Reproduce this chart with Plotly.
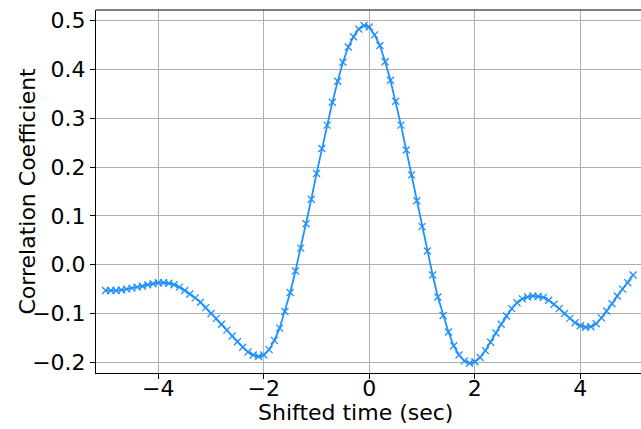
import plotly.graph_objects as go

shift_time = [round(-5 + 0.1 * i, 1) for i in range(101)]

correlation = [
    -0.053, -0.053, -0.053, -0.052, -0.050, -0.048, -0.046, -0.044, -0.041, -0.039,  # -5.0 .. -4.1
    -0.037, -0.037, -0.038, -0.041, -0.046, -0.053, -0.060, -0.068, -0.077, -0.088,  # -4.0 .. -3.1
    -0.100, -0.110, -0.122, -0.134, -0.146, -0.158, -0.169, -0.179, -0.185, -0.188,  # -3.0 .. -2.1
    -0.185, -0.174, -0.155, -0.130, -0.096, -0.057, -0.013, 0.034, 0.084, 0.134,     # -2.0 .. -1.1
    0.187, 0.238, 0.286, 0.333, 0.376, 0.415, 0.446, 0.467, 0.483, 0.490,            # -1.0 .. -0.1
    0.487, 0.471, 0.449, 0.416, 0.378, 0.335, 0.286, 0.235, 0.184, 0.131,            # 0.0 .. 0.9
    0.078, 0.028, -0.021, -0.066, -0.104, -0.138, -0.166, -0.185, -0.197, -0.202,    # 1.0 .. 1.9
    -0.199, -0.190, -0.176, -0.159, -0.140, -0.122, -0.105, -0.090, -0.078, -0.070,  # 2.0 .. 2.9
    -0.066, -0.064, -0.065, -0.067, -0.073, -0.081, -0.090, -0.100, -0.110, -0.119,  # 3.0 .. 3.9
    -0.125, -0.128, -0.127, -0.121, -0.109, -0.095, -0.080, -0.064, -0.050, -0.037,  # 4.0 .. 4.9
    -0.021,                                                                          # 5.0
]

x_ticks = [-4, -2, 0, 2, 4]
x_tick_labels = ["−4", "−2", "0", "2", "4"]
y_ticks = [-0.2, -0.1, 0.0, 0.1, 0.2, 0.3, 0.4, 0.5]

x_title = "Shifted time (sec)"
y_title = "Correlation Coefficient"

fig = go.Figure()
fig.add_trace(go.Scatter(
    x=shift_time, y=correlation, mode="lines+markers",
    line=dict(color="#1E90FF", width=1.8),
    marker=dict(symbol="x-thin", size=7, color="#1E90FF",
                line=dict(color="#1E90FF", width=1.3)),
    showlegend=False,
))

font = "DejaVu Sans, Liberation Sans, sans-serif"
fig.update_layout(
    width=641, height=429,
    margin=dict(l=96, r=0, t=10, b=56),
    paper_bgcolor="white", plot_bgcolor="white",
    font=dict(family=font, size=22, color="black"),
    xaxis=dict(
        range=[-5.181, 5.15], tickvals=x_ticks, ticktext=x_tick_labels,
        showgrid=True, gridcolor="#b0b0b0", gridwidth=1,
        showline=True, linecolor="black", linewidth=1,
        ticks="outside", ticklen=5, tickcolor="black", tickwidth=1,
        zeroline=False, automargin=False, ticklabelstandoff=-9,
        tickfont=dict(size=22),
    ),
    yaxis=dict(
        range=[-0.2219, 0.5219], tickvals=y_ticks, tickformat=".1f",
        showgrid=True, gridcolor="#b0b0b0", gridwidth=1,
        showline=True, linecolor="black", linewidth=1,
        ticks="outside", ticklen=5, tickcolor="black", tickwidth=1,
        zeroline=False, automargin=False,
        tickfont=dict(size=22),
    ),
    shapes=[dict(type="line", xref="paper", yref="paper", x0=0, x1=1, y0=1, y1=1,
                 line=dict(color="black", width=1))],
    annotations=[
        dict(text=x_title, xref="paper", yref="paper", x=0.477, y=-0.069,
             xanchor="center", yanchor="top", showarrow=False, font=dict(size=22)),
        dict(text=y_title, xref="paper", yref="paper", x=-0.1266, y=0.5,
             xanchor="center", yanchor="middle", textangle=-90, showarrow=False,
             font=dict(size=22)),
    ],
)

fig.write_html(
    "out.html",
    config={"displayModeBar": False},
    post_script="document.body.style.margin='0';document.body.style.overflow='hidden';",
)
